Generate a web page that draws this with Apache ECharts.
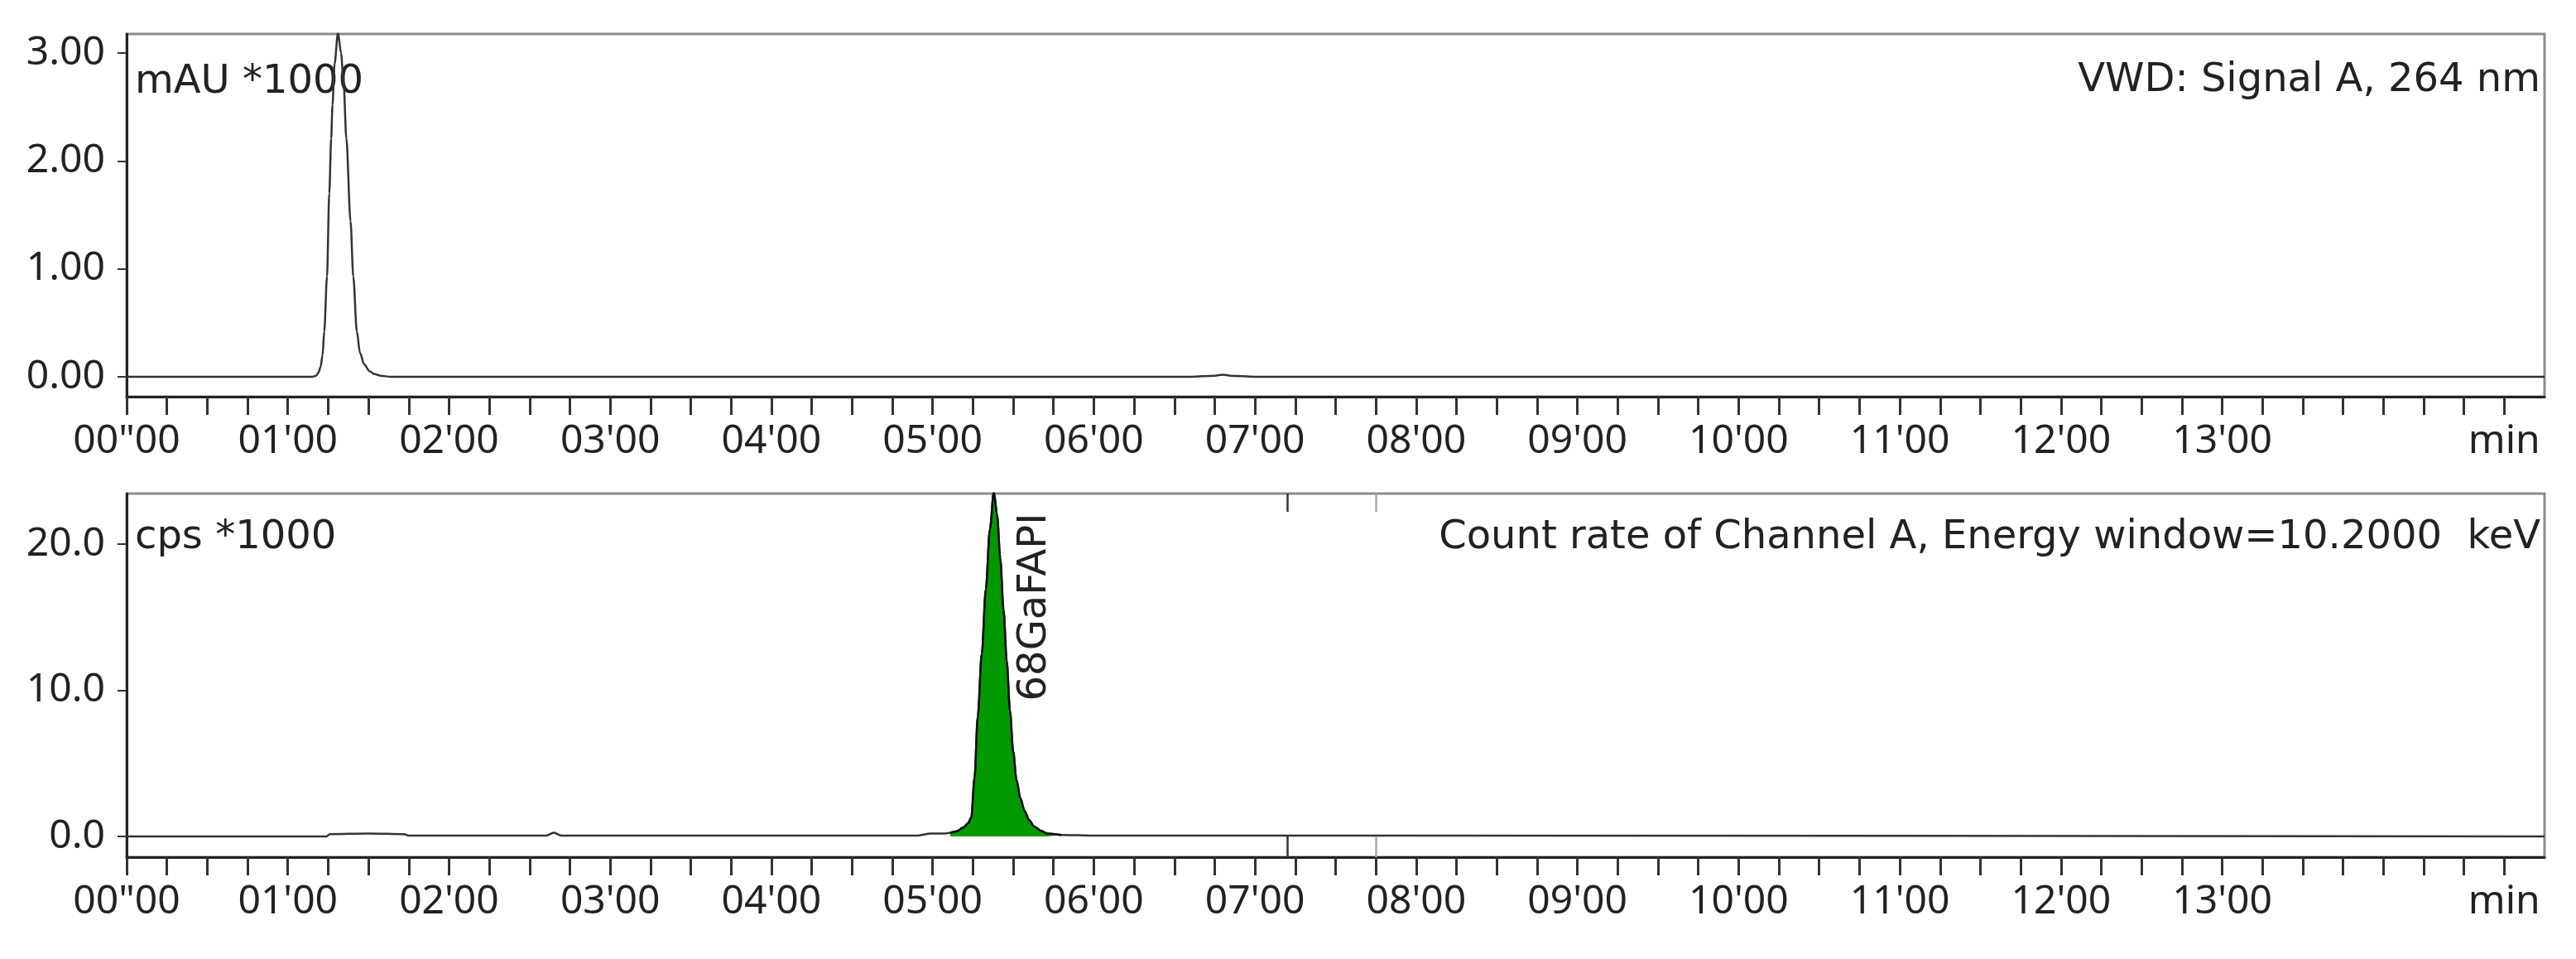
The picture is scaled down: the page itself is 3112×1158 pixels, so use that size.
<!DOCTYPE html>
<html>
<head>
<meta charset="utf-8">
<script src="https://cdn.jsdelivr.net/npm/echarts@6/dist/echarts.min.js"></script>
<style>
  html, body { margin: 0; padding: 0; background: #fff; }
  #main { width: 3112px; height: 1158px; }
</style>
</head>
<body>
<div id="main"></div>
<script>
// UV trace (VWD signal A, 264 nm), mAU*1000 vs. minutes
const uvTime = [0, 1.0, 1.15, 1.175, 1.19, 1.203, 1.215, 1.226, 1.243, 1.257, 1.269, 1.277, 1.29, 1.311,
  1.33, 1.346, 1.363, 1.389, 1.406, 1.428, 1.448, 1.474, 1.508, 1.54, 1.577, 1.64, 3.0, 6.6, 6.75, 6.8, 6.85, 7.0, 15]
const uvSignal = [0, 0, 0, 0.01, 0.04, 0.09, 0.2, 0.42, 0.93, 1.70, 2.21, 2.52, 2.9, 3.19,
  3.0, 2.72, 2.21, 1.44, 0.93, 0.42, 0.22, 0.115, 0.05, 0.025, 0.01, 0, 0, 0, 0.01, 0.02, 0.01, 0, 0]

// radio trace (count rate channel A), cps*1000 vs. minutes
const radTime = [0, 1.24, 1.26, 1.5, 1.72, 1.75, 2.6, 2.65, 2.7, 4.9, 4.99, 5.08, 5.11, 5.15, 5.19, 5.22, 5.24,
  5.26, 5.28, 5.305, 5.33, 5.355, 5.38, 5.40, 5.42, 5.44, 5.46, 5.48, 5.50, 5.52, 5.545, 5.57, 5.60, 5.63,
  5.67, 5.71, 5.8, 6.0, 8.0, 15]
const radSignal = [0, 0, 0.15, 0.2, 0.15, 0.05, 0.05, 0.25, 0.05, 0.05, 0.2, 0.2, 0.25, 0.35, 0.6, 0.9, 1.3,
  4.0, 8.2, 12.5, 16.9, 21.0, 23.6, 22.0, 19.0, 15.5, 12.0, 8.6, 5.8, 3.9, 2.6, 1.76, 1.1, 0.68,
  0.4, 0.2, 0.1, 0.05, 0.05, 0]

// integrated peak
const peakName = '68GaFAPI'
const peakStart = 5.11
const peakEnd = 5.8
const peakApex = 5.38

// event marks on the radio trace
const eventTimes = [7.2, 7.75]

// axes
const xLabelMinutes = [0, 1, 2, 3, 4, 5, 6, 7, 8, 9, 10, 11, 12, 13]
const xUnitAt = 14.75
const uvTicks = [0, 1, 2, 3]
const radTicks = [0, 10, 20]
const uvRange = [-0.184, 3.177]
const radRange = [-1.42, 23.46]

const FONT = '"Noto Sans", "DejaVu Sans", sans-serif'
const NOTE_FONT = '48px "DejaVu Sans", sans-serif'
const INK = '#222'

const xTicks = []
for (let t = 0; t <= 14.75; t += 0.25) xTicks.push(t)

function minLabel (v) {
  if (Math.abs(v - xUnitAt) < 1e-6) return 'min'
  const m = String(Math.round(v)).padStart(2, '0')
  return v === 0 ? '00"00' : m + "'00"
}

function pairs (xs, ys) {
  return xs.map((x, i) => [x, ys[i]])
}

function xAxisFor (i) {
  return {
    type: 'value',
    gridIndex: i,
    min: 0,
    max: 15,
    axisLine: { show: true, onZero: false, lineStyle: { color: INK, width: 3 } },
    axisTick: { show: true, customValues: xTicks, length: 22, lineStyle: { color: '#333', width: 3 } },
    axisLabel: {
      customValues: xLabelMinutes.concat([xUnitAt]),
      formatter: minLabel,
      fontSize: 48,
      fontFamily: FONT,
      color: INK,
      margin: 30
    },
    splitLine: { show: false }
  }
}

function yAxisFor (i, range, ticks, digits) {
  return {
    type: 'value',
    gridIndex: i,
    min: range[0],
    max: range[1],
    axisLine: { show: true, onZero: false, lineStyle: { color: INK, width: 3 } },
    axisTick: { show: true, customValues: ticks, length: 11, lineStyle: { color: '#333', width: 2 } },
    axisLabel: {
      customValues: ticks,
      formatter: v => v.toFixed(digits),
      fontSize: 48,
      fontFamily: FONT,
      color: INK,
      margin: 26
    },
    splitLine: { show: false }
  }
}

const radData = pairs(radTime, radSignal)
const peakData = radData.filter(p => p[0] >= peakStart && p[0] <= peakEnd)

const myChart = echarts.init(document.getElementById('main'))

const option = {
  animation: false,
  backgroundColor: '#fff',
  grid: [
    { left: 153, right: 38, top: 41, height: 438, show: true, borderColor: '#8c8c8c', borderWidth: 3 },
    { left: 153, right: 38, top: 596, height: 439, show: true, borderColor: '#8c8c8c', borderWidth: 3 }
  ],
  xAxis: [xAxisFor(0), xAxisFor(1)],
  yAxis: [yAxisFor(0, uvRange, uvTicks, 2), yAxisFor(1, radRange, radTicks, 1)],
  series: [
    {
      name: 'VWD',
      type: 'line',
      xAxisIndex: 0,
      yAxisIndex: 0,
      data: pairs(uvTime, uvSignal),
      symbol: 'none',
      clip: true,
      smooth: 0.3,
      smoothMonotone: 'x',
      lineStyle: { color: '#333', width: 2.5 }
    },
    {
      name: 'Count rate',
      type: 'line',
      xAxisIndex: 1,
      yAxisIndex: 1,
      data: radData,
      symbol: 'none',
      clip: true,
      smooth: 0.3,
      smoothMonotone: 'x',
      lineStyle: { color: '#333', width: 2.5 },
      markLine: {
        silent: true,
        symbol: 'none',
        label: { show: false },
        data: eventTimes.flatMap((t, i) => {
          const ls = { color: i === 0 ? '#333' : '#aaa', width: 2.5, type: 'solid' }
          return [
            [{ coord: [t, 0], lineStyle: ls }, { coord: [t, radRange[0]] }],
            [{ coord: [t, radRange[1]], lineStyle: ls }, { coord: [t, radRange[1] - 1.25] }]
          ]
        })
      }
    },
    {
      name: peakName,
      type: 'line',
      xAxisIndex: 1,
      yAxisIndex: 1,
      data: peakData,
      symbol: 'none',
      clip: true,
      smooth: 0.3,
      smoothMonotone: 'x',
      z: 3,
      lineStyle: { color: '#111', width: 2.5 },
      areaStyle: { color: '#009a00', opacity: 1 }
    }
  ],
  graphic: [
    { type: 'text', left: 163, top: 76, style: { text: 'mAU *1000', font: NOTE_FONT, fill: INK } },
    { type: 'text', right: 43, top: 74, style: { text: 'VWD: Signal A, 264 nm', font: NOTE_FONT, fill: INK } },
    { type: 'text', left: 163, top: 626, style: { text: 'cps *1000', font: NOTE_FONT, fill: INK } },
    { type: 'text', right: 43, top: 626, style: { text: 'Count rate of Channel A, Energy window=10.2000  keV', font: NOTE_FONT, fill: INK } }
  ]
}

myChart.setOption(option)

// peak name, written upward just right of the apex
const apexPx = myChart.convertToPixel({ gridIndex: 1 }, [peakApex, 0])
myChart.setOption({
  graphic: option.graphic.concat([{
    type: 'text',
    x: apexPx[0] + 50,
    y: 733,
    rotation: Math.PI / 2,
    style: { text: peakName, font: NOTE_FONT, fill: INK, align: 'center', verticalAlign: 'middle' }
  }])
})
</script>
</body>
</html>
